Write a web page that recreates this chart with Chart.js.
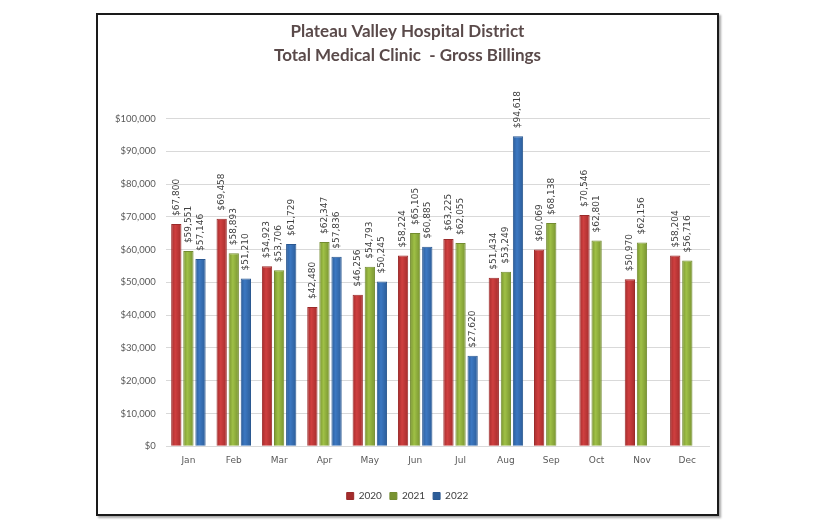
<!DOCTYPE html>
<html>
<head>
<meta charset="utf-8">
<script src="https://cdn.jsdelivr.net/npm/chart.js@4"></script>
<style>
  body { margin: 0; background: #fff; }
  .frame {
    position: absolute; left: 96px; top: 13px; width: 619px; height: 499px;
    border: 2px solid #1a1a1a; box-shadow: 2px 2px 2px rgba(0,0,0,0.35);
  }
  .chart-box { position: absolute; left: 2px; top: 2px; width: 615px; height: 495px; }
</style>
</head>
<body>
<div class="frame"><div class="chart-box"><canvas id="billingChart"></canvas></div></div>
<script>
// Chart data
const months = ['Jan', 'Feb', 'Mar', 'Apr', 'May', 'Jun', 'Jul', 'Aug', 'Sep', 'Oct', 'Nov', 'Dec'];
const billings2020 = [67800, 69458, 54923, 42480, 46256, 58224, 63225, 51434, 60069, 70546, 50970, 58204];
const billings2021 = [59551, 58893, 53706, 62347, 54793, 65105, 62055, 53249, 68138, 62801, 62156, 56716];
const billings2022 = [57146, 51210, 61729, 57836, 50245, 60885, 27620, 94618, null, null, null, null];

const money = v => '$' + v.toLocaleString('en-US');

// Cylinder-ish horizontal shading for each bar
const shade = (base, dark) => (c) => {
  const xs = c.chart.scales.x;
  if (c.type !== 'data' || !xs || !xs.width) return base;
  const slot = xs.width / months.length * 0.8 / 3;
  const cx = xs.getPixelForValue(c.dataIndex) + (c.datasetIndex - 1) * slot;
  const w = slot * 0.85;
  const g = c.chart.ctx.createLinearGradient(cx - w / 2, 0, cx + w / 2, 0);
  g.addColorStop(0, dark);
  g.addColorStop(0.4, base);
  g.addColorStop(1, dark);
  return g;
};

// Rotated value labels above each bar
const barLabels = {
  id: 'barLabels',
  afterDatasetsDraw(chart) {
    const ctx = chart.ctx;
    ctx.save();
    ctx.font = '9px "DejaVu Sans"';
    ctx.fillStyle = '#404040';
    ctx.textAlign = 'left';
    ctx.textBaseline = 'middle';
    chart.data.datasets.forEach((ds, i) => {
      chart.getDatasetMeta(i).data.forEach((bar, j) => {
        if (ds.data[j] == null) return;
        ctx.save();
        ctx.translate(bar.x, bar.y - 8);
        ctx.rotate(-Math.PI / 2);
        ctx.fillText(money(ds.data[j]), 0, 0);
        ctx.restore();
      });
    });
    ctx.restore();
  }
};

const ctx = document.getElementById('billingChart').getContext('2d');
new Chart(ctx, {
  type: 'bar',
  data: {
    labels: months,
    datasets: [{
      label: '2020',
      data: billings2020,
      backgroundColor: shade('#cf3f3f', '#a42c2c'),
      borderColor: '#9a2a2a',
      borderWidth: 1
    }, {
      label: '2021',
      data: billings2021,
      backgroundColor: shade('#9fc046', '#789330'),
      borderColor: '#738c30',
      borderWidth: 1
    }, {
      label: '2022',
      data: billings2022,
      backgroundColor: shade('#3c78c2', '#2c5d99'),
      borderColor: '#2a5891',
      borderWidth: 1
    }]
  },
  options: {
    responsive: true,
    maintainAspectRatio: false,
    animation: false,
    categoryPercentage: 0.8,
    barPercentage: 0.85,
    layout: { padding: { left: 5, right: 5, top: 0, bottom: 1 } },
    scales: {
      x: {
        grid: { display: false },
        border: { display: false },
        ticks: { font: { family: 'DejaVu Sans', size: 9 }, color: '#595959', padding: 1 },
        afterFit: scale => { scale.height += 16; }
      },
      y: {
        min: 0,
        max: 100000,
        grid: { color: '#d9d9d9', drawTicks: false },
        border: { display: false },
        ticks: {
          stepSize: 10000,
          padding: 10,
          font: { family: 'Lato', size: 9.5 },
          color: '#595959',
          callback: v => money(v)
        }
      }
    },
    plugins: {
      title: {
        display: true,
        text: ['Plateau Valley Hospital District', 'Total Medical Clinic  - Gross Billings'],
        font: { family: 'Lato', size: 17, weight: 'bold', lineHeight: 1.4 },
        color: '#5a4a4a',
        padding: { top: 3, bottom: 51 }
      },
      legend: {
        position: 'bottom',
        labels: {
          boxWidth: 7,
          boxHeight: 7,
          padding: 8,
          font: { family: 'Lato', size: 10 },
          color: '#404040'
        }
      },
      tooltip: { enabled: false }
    }
  },
  plugins: [barLabels]
});
</script>
</body>
</html>
